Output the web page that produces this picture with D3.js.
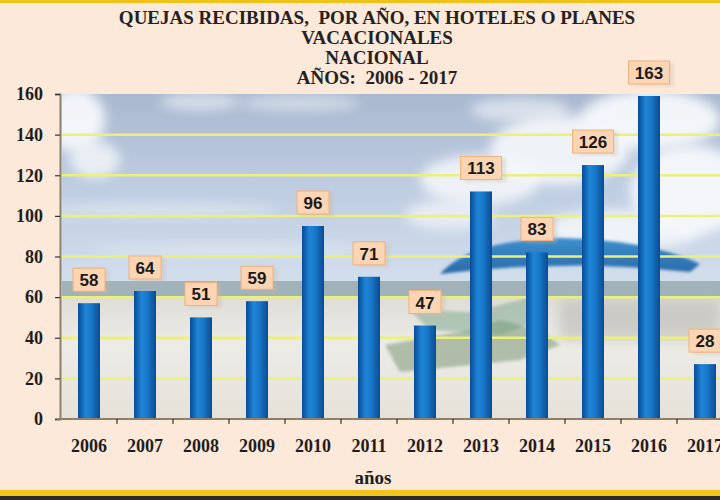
<!DOCTYPE html>
<html>
<head>
<meta charset="utf-8">
<script src="https://cdn.jsdelivr.net/npm/d3@7"></script>
<style>
  body { margin: 0; background: #fde9d9; }
  svg { display: block; }
</style>
</head>
<body>
<div id="chart"></div>
<script>
'use strict';

var years = ["2006", "2007", "2008", "2009", "2010", "2011", "2012", "2013", "2014", "2015", "2016", "2017"];
var quejas = [58, 64, 51, 59, 96, 71, 47, 113, 83, 126, 163, 28];
var yTicks = [0, 20, 40, 60, 80, 100, 120, 140, 160];
var titleLines = ["QUEJAS RECIBIDAS,  POR AÑO, EN HOTELES O PLANES", "VACACIONALES", "NACIONAL", "AÑOS:  2006 - 2017"];
var xTitle = "años";

var W = 720, H = 500;
var plot = {left: 62, right: 720, top: 94, bottom: 419};

var svg = d3.select("#chart").append("svg")
  .attr("width", W)
  .attr("height", H);

var defs = svg.append("defs");

// bar gradient, cylinder look
var bg = defs.append("linearGradient").attr("id", "barGrad").attr("x1", "0").attr("x2", "1").attr("y1", "0").attr("y2", "0");
bg.append("stop").attr("offset", "0%").attr("stop-color", "#0a4a96");
bg.append("stop").attr("offset", "35%").attr("stop-color", "#1f86d8");
bg.append("stop").attr("offset", "60%").attr("stop-color", "#1877c8");
bg.append("stop").attr("offset", "100%").attr("stop-color", "#0b4b92");

var sky = defs.append("linearGradient").attr("id", "skyGrad").attr("x1", "0").attr("x2", "0").attr("y1", "0").attr("y2", "1");
sky.append("stop").attr("offset", "0%").attr("stop-color", "#a9b8cf");
sky.append("stop").attr("offset", "45%").attr("stop-color", "#bccbe0");
sky.append("stop").attr("offset", "100%").attr("stop-color", "#d3deec");

var sand = defs.append("linearGradient").attr("id", "sandGrad").attr("x1", "0").attr("x2", "0").attr("y1", "0").attr("y2", "1");
sand.append("stop").attr("offset", "0%").attr("stop-color", "#dedcd6");
sand.append("stop").attr("offset", "40%").attr("stop-color", "#ecebe6");
sand.append("stop").attr("offset", "100%").attr("stop-color", "#e4e1d8");

var umb = defs.append("linearGradient").attr("id", "umbGrad").attr("x1", "0").attr("x2", "0").attr("y1", "0").attr("y2", "1");
umb.append("stop").attr("offset", "0%").attr("stop-color", "#3d8fcf");
umb.append("stop").attr("offset", "100%").attr("stop-color", "#2a6aa6");

defs.append("filter").attr("id", "blur6").attr("x", "-50%").attr("y", "-50%").attr("width", "200%").attr("height", "200%")
  .append("feGaussianBlur").attr("stdDeviation", 6);
defs.append("filter").attr("id", "blur2")
  .append("feGaussianBlur").attr("stdDeviation", 1.5);

defs.append("clipPath").attr("id", "plotClip")
  .append("rect")
  .attr("x", plot.left).attr("y", plot.top)
  .attr("width", plot.right - plot.left).attr("height", plot.bottom - plot.top);

// page background and yellow frame
svg.append("rect").attr("width", W).attr("height", H).attr("fill", "#fde9d9");
svg.append("rect").attr("x", 0).attr("y", 0).attr("width", W).attr("height", 3).attr("fill", "#efc21a");
svg.append("rect").attr("x", 0).attr("y", 490).attr("width", W).attr("height", 6).attr("fill", "#f2c51c");
svg.append("rect").attr("x", 0).attr("y", 496).attr("width", W).attr("height", 4).attr("fill", "#2b2b2b");

var xb = d3.scaleBand().domain(years).range([61, 733]);
var y = d3.scaleLinear().domain([0, 160]).range([plot.bottom, plot.top]);

// beach photo, approximated
var photo = svg.append("g").attr("clip-path", "url(#plotClip)");
photo.append("rect")
  .attr("x", plot.left).attr("y", plot.top)
  .attr("width", plot.right - plot.left).attr("height", 190)
  .attr("fill", "url(#skyGrad)");

var clouds = [
  [75, 120, 30, 32, 0.95], [95, 160, 25, 18, 0.8], [200, 102, 40, 8, 0.6],
  [300, 103, 60, 8, 0.5], [160, 210, 120, 7, 0.45], [230, 250, 140, 6, 0.4],
  [480, 180, 60, 25, 0.85], [560, 150, 70, 35, 0.9], [650, 120, 70, 30, 0.95],
  [690, 190, 60, 45, 0.95], [620, 230, 80, 20, 0.85], [450, 215, 45, 15, 0.7],
  [520, 110, 50, 12, 0.6]
];
photo.selectAll("ellipse.cloud")
  .data(clouds)
  .enter().append("ellipse")
  .attr("class", "cloud")
  .attr("cx", d => d[0]).attr("cy", d => d[1])
  .attr("rx", d => d[2]).attr("ry", d => d[3])
  .attr("fill", "#f6f8fb")
  .attr("opacity", d => d[4])
  .attr("filter", "url(#blur6)");

// sea band and sand
photo.append("rect")
  .attr("x", plot.left).attr("y", 281)
  .attr("width", plot.right - plot.left).attr("height", 18)
  .attr("fill", "#a1b2b9");
photo.append("rect")
  .attr("x", plot.left).attr("y", 296)
  .attr("width", plot.right - plot.left).attr("height", plot.bottom - 296)
  .attr("fill", "url(#sandGrad)");
photo.append("rect")
  .attr("x", 560).attr("y", 300)
  .attr("width", 160).attr("height", 40)
  .attr("fill", "#b8b8b4").attr("opacity", 0.55)
  .attr("filter", "url(#blur6)");

// umbrella and chairs
photo.append("path")
  .attr("d", "M440,274 Q470,240 560,238 Q650,240 700,264 L690,272 Q600,264 560,266 Q500,266 440,274 Z")
  .attr("fill", "url(#umbGrad)")
  .attr("filter", "url(#blur2)");
photo.append("path")
  .attr("d", "M385,345 L470,330 L500,320 L540,330 L560,345 L520,360 L470,365 L400,372 Z")
  .attr("fill", "#7f9a78").attr("opacity", 0.55)
  .attr("filter", "url(#blur2)");
photo.append("path")
  .attr("d", "M410,310 L470,312 L520,300 L545,290 L540,320 L500,335 L430,330 Z")
  .attr("fill", "#6fa083").attr("opacity", 0.45)
  .attr("filter", "url(#blur2)");

// gridlines
svg.append("g")
  .selectAll("line")
  .data(yTicks.filter(d => d > 0 && d < 160))
  .enter().append("line")
  .attr("x1", plot.left).attr("x2", plot.right)
  .attr("y1", d => y(d)).attr("y2", d => y(d))
  .attr("stroke", "#eaf07a")
  .attr("stroke-width", 2.5);

// bars
svg.append("g")
  .attr("clip-path", "url(#plotClip)")
  .selectAll("rect")
  .data(quejas)
  .enter().append("rect")
  .attr("x", (d, i) => xb(years[i]) + (xb.bandwidth() - 22) / 2)
  .attr("y", d => y(Math.min(d, 160)) + 2)
  .attr("width", 22)
  .attr("height", d => plot.bottom - y(Math.min(d, 160)) - 2)
  .attr("fill", "url(#barGrad)");

// axes
var axisColor = "#8c7f6c";
var yAxis = svg.append("g")
  .attr("transform", "translate(60,0)")
  .call(d3.axisLeft(y).tickValues(yTicks).tickSize(5).tickPadding(12));
yAxis.select(".domain").attr("stroke", axisColor).attr("stroke-width", 2);
yAxis.selectAll(".tick line").attr("stroke", "#333").attr("stroke-width", 1.2);
yAxis.selectAll(".tick text")
  .attr("fill", "#1e1e1e")
  .style("font-family", "'Liberation Serif', 'Times New Roman', serif")
  .style("font-weight", "bold")
  .style("font-size", "18px");

svg.append("line")
  .attr("x1", 57).attr("x2", W)
  .attr("y1", plot.bottom).attr("y2", plot.bottom)
  .attr("stroke", axisColor).attr("stroke-width", 2);

svg.append("g")
  .selectAll("line")
  .data(years.slice(1))
  .enter().append("line")
  .attr("x1", d => xb(d)).attr("x2", d => xb(d))
  .attr("y1", plot.bottom).attr("y2", plot.bottom + 5)
  .attr("stroke", "#333").attr("stroke-width", 1.2);

svg.append("g")
  .selectAll("text")
  .data(years)
  .enter().append("text")
  .attr("x", d => xb(d) + xb.bandwidth() / 2)
  .attr("y", 452)
  .attr("text-anchor", "middle")
  .attr("fill", "#1e1e1e")
  .style("font-family", "'Liberation Serif', 'Times New Roman', serif")
  .style("font-weight", "bold")
  .style("font-size", "18px")
  .text(d => d);

svg.append("text")
  .attr("x", 373)
  .attr("y", 484)
  .attr("text-anchor", "middle")
  .attr("fill", "#1e1e1e")
  .style("font-family", "'Liberation Serif', 'Times New Roman', serif")
  .style("font-weight", "bold")
  .style("font-size", "19px")
  .text(xTitle);

// title
svg.append("g")
  .selectAll("text")
  .data(titleLines)
  .enter().append("text")
  .attr("x", 377)
  .attr("y", (d, i) => 24 + i * 20)
  .attr("text-anchor", "middle")
  .attr("fill", "#222")
  .style("font-family", "'Liberation Serif', 'Times New Roman', serif")
  .style("font-weight", "bold")
  .style("font-size", "19px")
  .style("white-space", "pre")
  .text(d => d);

// data labels
var lab = svg.append("g")
  .selectAll("g")
  .data(quejas)
  .enter().append("g")
  .attr("transform", (d, i) => "translate(" + (xb(years[i]) + xb.bandwidth() / 2) + "," + (y(Math.min(d, 160)) - 9) + ")");

lab.append("rect")
  .attr("x", d => -(String(d).length * 9 + 8) / 2 + 1.5)
  .attr("y", -24 + 1.5)
  .attr("width", d => String(d).length * 9 + 8 + 6)
  .attr("height", 24)
  .attr("fill", "#c9b9a8").attr("opacity", 0.35)
  .attr("filter", "url(#blur2)");
lab.append("rect")
  .attr("x", d => -(String(d).length * 9 + 14) / 2)
  .attr("y", -24)
  .attr("width", d => String(d).length * 9 + 14)
  .attr("height", 23)
  .attr("fill", "#fcd5b4")
  .attr("stroke", "#f3b07a")
  .attr("stroke-width", 1);
lab.append("text")
  .attr("x", 0)
  .attr("y", -6)
  .attr("text-anchor", "middle")
  .attr("fill", "#1a1a1a")
  .style("font-family", "'Liberation Sans', Arial, sans-serif")
  .style("font-weight", "bold")
  .style("font-size", "17px")
  .text(d => d);
</script>
</body>
</html>
